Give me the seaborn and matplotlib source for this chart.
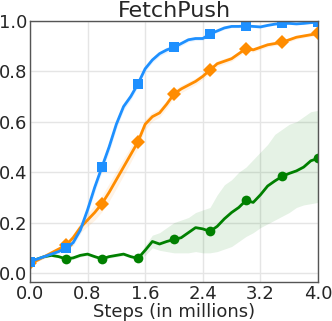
import numpy as np
import pandas as pd
import seaborn as sns
import matplotlib
matplotlib.use('Agg')
import matplotlib.pyplot as plt

# steps in millions, every 0.1M
steps = [round(0.1 * i, 1) for i in range(41)]

blue_mean = [0.045, 0.055, 0.065, 0.075, 0.085, 0.10, 0.12, 0.17, 0.25, 0.34,
             0.42, 0.50, 0.59, 0.66, 0.70, 0.75, 0.81, 0.845, 0.87, 0.885,
             0.895, 0.91, 0.925, 0.93, 0.93, 0.948, 0.96, 0.972, 0.978, 0.978,
             0.98, 0.978, 0.976, 0.982, 0.987, 0.99, 0.99, 0.988, 0.99, 0.993, 0.995]
blue_err = [0.005, 0.006, 0.006, 0.007, 0.008, 0.01, 0.012, 0.015, 0.018, 0.02,
            0.02, 0.02, 0.018, 0.015, 0.013, 0.012, 0.011, 0.01, 0.01, 0.01,
            0.01, 0.009, 0.008, 0.008, 0.007, 0.007, 0.006, 0.006, 0.005, 0.005,
            0.005, 0.005, 0.005, 0.004, 0.004, 0.004, 0.004, 0.004, 0.004, 0.004, 0.004]

orange_mean = [0.04, 0.05, 0.065, 0.08, 0.095, 0.11, 0.14, 0.18, 0.21, 0.24,
               0.275, 0.32, 0.37, 0.42, 0.47, 0.52, 0.59, 0.62, 0.635, 0.67,
               0.71, 0.73, 0.745, 0.76, 0.78, 0.805, 0.83, 0.84, 0.85, 0.87,
               0.89, 0.885, 0.895, 0.905, 0.91, 0.915, 0.925, 0.935, 0.94, 0.945, 0.95]
orange_err = [0.005, 0.006, 0.007, 0.008, 0.01, 0.012, 0.015, 0.02, 0.025, 0.03,
              0.032, 0.035, 0.035, 0.033, 0.03, 0.025, 0.02, 0.018, 0.017, 0.016,
              0.015, 0.015, 0.014, 0.013, 0.012, 0.012, 0.011, 0.011, 0.01, 0.01,
              0.01, 0.009, 0.009, 0.009, 0.008, 0.008, 0.008, 0.008, 0.007, 0.007, 0.007]

green_mean = [0.045, 0.055, 0.065, 0.07, 0.065, 0.056, 0.06, 0.07, 0.075, 0.065,
              0.056, 0.065, 0.07, 0.075, 0.065, 0.058, 0.09, 0.125, 0.115, 0.125,
              0.133, 0.14, 0.16, 0.18, 0.175, 0.165, 0.185, 0.215, 0.24, 0.26,
              0.288, 0.28, 0.31, 0.345, 0.365, 0.383, 0.395, 0.405, 0.42, 0.445, 0.455]
green_upper = [0.05, 0.06, 0.07, 0.075, 0.07, 0.062, 0.066, 0.076, 0.081, 0.071,
               0.062, 0.071, 0.076, 0.081, 0.071, 0.064, 0.11, 0.15, 0.16, 0.18,
               0.20, 0.21, 0.22, 0.24, 0.25, 0.26, 0.31, 0.35, 0.37, 0.40,
               0.42, 0.45, 0.48, 0.51, 0.55, 0.57, 0.59, 0.60, 0.62, 0.64, 0.645]
green_lower = [0.04, 0.05, 0.06, 0.065, 0.06, 0.05, 0.054, 0.064, 0.069, 0.059,
               0.05, 0.059, 0.064, 0.069, 0.059, 0.052, 0.07, 0.10, 0.09, 0.085,
               0.08, 0.08, 0.08, 0.085, 0.08, 0.08, 0.085, 0.095, 0.105, 0.125,
               0.145, 0.16, 0.18, 0.195, 0.21, 0.225, 0.24, 0.26, 0.27, 0.275, 0.28]

sns.set_style('whitegrid')
plt.rcParams['font.family'] = ['DejaVu Sans']

fig, ax = plt.subplots(figsize=(3.32, 3.21), dpi=100)
fig.subplots_adjust(left=0.09, right=0.958, top=0.935, bottom=0.122)

df = pd.DataFrame({'steps': steps, 'blue': blue_mean, 'orange': orange_mean, 'green': green_mean})

series = [
    ('green', '#008000', 'o', np.array(green_lower), np.array(green_upper)),
    ('orange', '#ff8c00', 'D', np.array(orange_mean) - np.array(orange_err), np.array(orange_mean) + np.array(orange_err)),
    ('blue', '#1e90ff', 's', np.array(blue_mean) - np.array(blue_err), np.array(blue_mean) + np.array(blue_err)),
]

for name, color, marker, lo, hi in series:
    ax.fill_between(steps, lo, hi, color=color, alpha=0.1, linewidth=0)
    sns.lineplot(data=df, x='steps', y=name, ax=ax, color=color, linewidth=2,
                 marker=marker, markersize=7, markeredgewidth=0, markevery=5)

ax.set_xlim(0, 4.0)
ax.set_ylim(-0.035, 1.0)
ax.set_xticks([0.0, 0.8, 1.6, 2.4, 3.2, 4.0])
ax.set_yticks([0.0, 0.2, 0.4, 0.6, 0.8, 1.0])
ax.tick_params(labelsize=13, length=0, pad=2)
ax.set_xlabel('Steps (in millions)', fontsize=13, labelpad=0)
ax.set_ylabel('')
ax.set_title('FetchPush', fontsize=16, pad=3)
ax.grid(color='#e5e5e5', linewidth=1)
for sp in ax.spines.values():
    sp.set_color('#555555')
    sp.set_linewidth(1)

plt.savefig('out.png', dpi=100)
